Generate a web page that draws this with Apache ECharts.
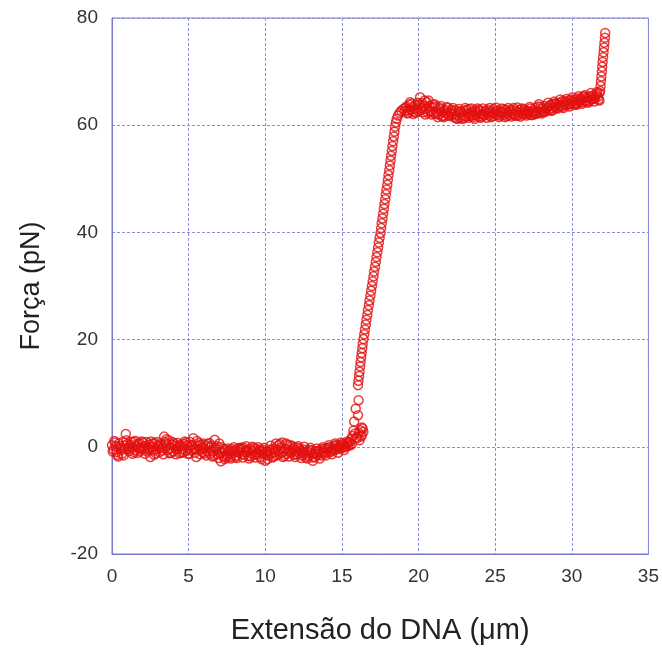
<!DOCTYPE html>
<html>
<head>
<meta charset="utf-8">
<script src="https://cdn.jsdelivr.net/npm/echarts@6/dist/echarts.min.js"></script>
<style>
html,body{margin:0;padding:0;background:#fff;}
#chart{width:662px;height:650px;}
</style>
</head>
<body>
<div id="chart"></div>
<script>
// Axis settings
var xTicks = [0, 5, 10, 15, 20, 25, 30, 35];
var yTicks = [-20, 0, 20, 40, 60, 80];
var xTitle = 'Extensão do DNA (\u03bcm)';
var yTitle = 'Força (pN)';

// Baseline (low force, before the jump)
var baseline = [
[0.0,0.3],[0.1,-0.5],[0.2,0.8],[0.3,-1.0],[0.4,-1.8],[0.5,0.2],[0.6,-0.6],[0.7,0.9],[0.8,-0.3],[0.9,2.4],
[1.0,0.5],[1.1,-0.8],[1.2,0.4],[1.3,-0.2],[1.4,1.0],[1.5,-0.6],[1.6,0.1],[1.7,-1.1],[1.8,0.6],[1.9,-0.3],
[2.0,0.8],[2.1,-0.5],[2.2,0.2],[2.3,-0.9],[2.4,0.4],[2.5,-1.9],[2.6,0.0],[2.7,-0.7],[2.8,0.7],[2.9,-0.4],
[3.0,0.3],[3.1,-1.0],[3.2,0.5],[3.3,-0.2],[3.4,1.9],[3.5,0.6],[3.6,-0.6],[3.7,1.2],[3.8,-0.3],[3.9,0.4],
[4.0,-0.9],[4.1,0.2],[4.2,-0.5],[4.3,0.7],[4.4,-1.2],[4.5,0.1],[4.6,-0.4],[4.7,0.5],[4.8,-0.8],[4.9,0.3],
[5.0,-0.2],[5.1,0.9],[5.2,-0.7],[5.3,1.6],[5.4,-1.1],[5.5,-1.9],[5.6,0.2],[5.7,-0.6],[5.8,0.4],[5.9,-1.0],
[6.0,-0.3],[6.1,0.3],[6.2,-0.8],[6.3,-0.1],[6.4,-1.3],[6.5,0.2],[6.6,-0.9],[6.7,1.3],[6.8,-0.5],[6.9,-1.4],
[7.0,0.6],[7.1,-2.7],[7.2,-1.0],[7.3,-1.8],[7.4,-0.6],[7.5,-1.5],[7.6,-0.8],[7.7,-1.9],[7.8,-0.4],[7.9,-1.2],
[8.0,-0.7],[8.1,-1.6],[8.2,-0.3],[8.3,-1.1],[8.4,-0.5],[8.5,-1.4],[8.6,-0.2],[8.7,-1.0],[8.8,-0.6],[8.9,-1.7],
[9.0,-0.4],[9.1,-1.2],[9.2,-0.7],[9.3,-1.5],[9.4,-0.3],[9.5,-1.1],[9.6,-0.8],[9.7,-1.9],[9.8,-0.5],[9.9,-1.3],
[10.0,-2.6],[10.1,-0.9],[10.2,-1.6],[10.3,-0.6],[10.4,-1.2],[10.5,-0.3],[10.6,-1.0],[10.7,0.6],[10.8,-0.7],[10.9,-1.4],
[11.0,-0.2],[11.1,0.8],[11.2,-0.9],[11.3,-0.4],[11.4,-1.3],[11.5,-0.6],[11.6,0.3],[11.7,-1.1],[11.8,-0.5],[11.9,-1.5],
[12.0,-0.7],[12.1,-0.2],[12.2,-1.2],[12.3,-0.8],[12.4,-1.6],[12.5,-0.5],[12.6,-1.3],[12.7,-0.9],[12.8,-1.7],[12.9,-1.0],
[13.0,-0.6],[13.1,-2.6],[13.2,-1.2],[13.3,-0.8],[13.4,-1.5],[13.5,-0.7],[13.6,-1.1],[13.7,-0.4],[13.8,-0.9],[13.9,-0.3],
[14.0,-1.0],[14.1,-0.5],[14.2,-0.1],[14.3,-0.8],[14.4,-0.3],[14.5,0.2],[14.6,-0.5],[14.7,0.0],[14.8,-0.4],[14.9,0.3],
[15.0,-0.2],[15.1,0.4],[15.2,-0.1],[15.3,0.6],[15.4,0.2]
];
var baselineB = [
[0.05,-0.9],[0.25,0.1],[0.45,0.6],[0.65,-1.3],[0.85,0.2],[1.05,-0.4],[1.25,0.9],[1.45,-1.0],[1.65,0.5],[1.85,-0.8],
[2.05,-0.1],[2.25,0.9],[2.45,-0.6],[2.65,0.6],[2.85,-1.2],[3.05,0.0],[3.25,-0.7],[3.45,0.9],[3.65,0.2],[3.85,-1.1],
[4.05,0.6],[4.25,-0.2],[4.45,0.4],[4.65,-1.0],[4.85,0.8],[5.05,-1.3],[5.25,0.3],[5.45,-0.4],[5.65,0.7],[5.85,-0.2],
[6.05,-1.2],[6.25,0.5],[6.45,-0.6],[6.65,-1.6],[6.85,0.1],[7.05,-1.1],[7.25,-0.4],[7.45,-2.0],[7.65,-1.2],[7.85,-0.8],
[8.05,-1.9],[8.25,-0.9],[8.45,-0.2],[8.65,-1.5],[8.85,-0.9],[9.05,-1.8],[9.25,-0.2],[9.45,-1.4],[9.65,-0.6],[9.85,-0.9],
[10.05,-1.5],[10.25,-0.9],[10.45,-2.0],[10.65,-0.4],[10.85,0.3],[11.05,-1.1],[11.25,-1.7],[11.45,0.4],[11.65,-0.9],[11.85,-0.2],
[12.05,-1.4],[12.25,-0.4],[12.45,-1.0],[12.65,-2.0],[12.85,-0.6],[13.05,-1.4],[13.25,-1.9],[13.45,-0.9],[13.65,-1.6],[13.85,-1.3],
[14.05,-0.2],[14.25,-1.0],[14.45,-0.6],[14.65,0.4],[14.85,-0.1],[15.05,0.6],[15.25,0.1],[15.45,0.8]
];
var baselineC = [
[0.15,1.1],[0.35,-1.5],[0.55,-0.2],[0.75,-1.6],[0.95,1.2],[1.15,0.0],[1.35,-1.3],[1.55,1.1],[1.75,-0.3],[1.95,1.0],
[2.15,-1.3],[2.35,-0.2],[2.55,1.0],[2.75,-1.5],[2.95,0.9],[3.15,-0.3],[3.35,-1.4],[3.55,1.4],[3.75,-1.2],[3.95,0.9],
[4.15,-1.4],[4.35,0.0],[4.55,-1.1],[4.75,1.0],[4.95,-1.3],[5.15,0.4],[5.35,-0.4],[5.55,1.1],[5.75,-1.4],[5.95,0.6],
[6.15,-1.6],[6.35,0.7],[6.55,-1.8],[6.75,-0.2],[6.95,-2.1],[7.15,-0.1],[7.35,-2.3],[7.55,-0.3],[7.75,-2.2],[7.95,-0.1],
[8.15,-2.1],[8.35,-0.2],[8.55,-2.0],[8.75,0.1],[8.95,-2.2],[9.15,0.0],[9.35,-2.0],[9.55,-0.1],[9.75,-2.3],[9.95,-0.2],
[10.15,-2.3],[10.35,0.2],[10.55,-1.8],[10.75,-1.6],[10.95,0.5],[11.15,-1.9],[11.35,0.6],[11.55,-1.8],[11.75,0.2],[11.95,-1.9],
[12.15,0.1],[12.35,-2.1],[12.55,0.0],[12.75,-2.2],[12.95,-0.2],[13.15,-2.0],[13.35,-0.3],[13.55,-2.2],[13.75,-0.1],[13.95,-1.6],
[14.15,0.3],[14.35,-1.4],[14.55,0.6],[14.75,-1.1],[14.95,0.8],[15.15,-0.6],[15.35,1.0]
];

// The jump from the baseline to the stretch line
var jump = [
[15.5,0.9],[15.55,0.3],[15.6,1.4],[15.65,0.5],[15.7,2.0],[15.75,3.0],[15.8,4.7],[15.85,2.5],[15.9,7.1],[15.95,1.8],
[16.0,1.6],[16.05,5.9],[16.09,8.7],[16.1,2.6],[16.15,1.2],[16.2,3.1],[16.25,1.9],[16.3,3.6],[16.35,3.4],[16.4,2.8],[16.3,2.2]
];

// The steep rise (stretching)
var rise = [
[16.05,11.5],[16.08,12.3],[16.12,13.2],[16.15,14.0],[16.19,15.0],[16.22,15.8],[16.26,16.7],[16.29,17.5],[16.33,18.4],[16.36,19.2],
[16.41,20.1],[16.46,21.0],[16.50,21.9],[16.56,22.8],[16.60,23.7],[16.66,24.6],[16.70,25.5],[16.76,26.4],[16.80,27.3],[16.86,28.2],
[16.91,29.1],[16.96,30.0],[17.01,30.9],[17.06,31.8],[17.10,32.7],[17.16,33.6],[17.21,34.5],[17.26,35.4],[17.31,36.3],[17.36,37.2],
[17.41,38.1],[17.46,39.0],[17.52,39.9],[17.56,40.8],[17.60,41.7],[17.65,42.6],[17.69,43.5],[17.74,44.4],[17.78,45.3],[17.83,46.2],
[17.87,47.1],[17.91,48.0],[17.96,48.9],[18.00,49.8],[18.04,50.7],[18.09,51.6],[18.13,52.5],[18.17,53.4],[18.21,54.3],[18.26,55.2],
[18.30,56.1],[18.34,57.0],[18.39,57.9],[18.43,58.8],[18.47,59.7],[18.52,60.5],[18.58,61.2],[18.66,61.8],[18.76,62.3],[18.88,62.7],[19.0,63.0]
];

// Overstretching plateau
var plateau = [
[19.1,62.6],[19.2,63.5],[19.3,62.8],[19.4,63.8],[19.5,62.9],[19.6,63.4],[19.7,62.5],[19.8,63.7],[19.9,63.1],[20.0,62.6],
[20.1,65.2],[20.2,63.2],[20.3,62.4],[20.4,64.6],[20.5,63.0],[20.6,62.3],[20.7,63.6],[20.8,62.7],[20.9,63.3],[21.0,62.2],
[21.1,63.4],[21.2,62.5],[21.3,62.0],[21.4,63.0],[21.5,62.4],[21.6,61.8],[21.7,62.9],[21.8,62.2],[21.9,63.2],[22.0,61.7],
[22.1,62.6],[22.2,62.0],[22.3,61.5],[22.4,62.8],[22.5,61.9],[22.6,62.4],[22.7,61.4],[22.8,62.3],[22.9,61.8],[23.0,62.7],
[23.1,61.6],[23.2,62.2],[23.3,63.0],[23.4,61.7],[23.5,62.5],[23.6,61.9],[23.7,62.8],[23.8,62.0],[23.9,61.6],[24.0,62.6],
[24.1,62.1],[24.2,63.1],[24.3,61.9],[24.4,62.4],[24.5,62.9],[24.6,61.8],[24.7,62.6],[24.8,62.2],[24.9,63.0],[25.0,62.0],
[25.1,62.7],[25.2,62.3],[25.3,61.8],[25.4,63.1],[25.5,62.4],[25.6,62.0],[25.7,62.9],[25.8,62.3],[25.9,61.9],[26.0,62.8],
[26.1,62.2],[26.2,63.2],[26.3,62.0],[26.4,62.6],[26.5,61.8],[26.6,62.9],[26.7,62.4],[26.8,62.0],[26.9,63.0],[27.0,62.3],
[27.1,62.7],[27.2,62.1],[27.3,63.1],[27.4,62.5],[27.5,62.2],[27.6,63.2],[27.7,62.6],[27.8,63.5],[27.9,62.4],[28.0,63.0],
[28.1,62.6],[28.2,63.6],[28.3,62.9],[28.4,63.3],[28.5,62.8],[28.6,63.8],[28.7,63.2],[28.8,64.0],[28.9,63.4],[29.0,63.9],
[29.1,63.3],[29.2,64.2],[29.3,63.6],[29.4,64.5],[29.5,63.8],[29.6,64.3],[29.7,63.7],[29.8,64.6],[29.9,64.0],[30.0,64.4],
[30.1,63.9],[30.2,64.8],[30.3,64.2],[30.4,65.0],[30.5,64.4],[30.6,64.9],[30.7,64.3],[30.8,65.2],[30.9,64.6],[31.0,65.1],
[31.1,64.5],[31.2,65.4],[31.3,64.8],[31.4,65.6],[31.5,65.0],[31.6,65.8],[31.7,65.3],[31.8,66.0]
];
var plateauB = [
[19.15,63.2],[19.35,62.3],[19.55,64.0],[19.75,63.0],[19.95,64.2],[20.15,62.8],[20.35,63.6],[20.55,64.3],[20.75,62.6],[20.95,63.8],
[21.15,62.1],[21.35,63.3],[21.55,61.6],[21.75,62.6],[21.95,61.9],[22.15,62.9],[22.35,62.2],[22.55,61.2],[22.75,62.6],[22.95,61.3],
[23.15,62.9],[23.35,62.1],[23.55,61.5],[23.75,62.4],[23.95,62.9],[24.15,61.6],[24.35,62.7],[24.55,62.2],[24.75,61.5],[24.95,62.5],
[25.15,61.9],[25.35,62.6],[25.55,63.0],[25.75,61.7],[25.95,62.5],[26.15,62.9],[26.35,61.7],[26.55,62.3],[26.75,63.1],[26.95,62.1],
[27.15,62.5],[27.35,61.9],[27.55,62.8],[27.75,62.2],[27.95,63.4],[28.15,62.4],[28.35,63.1],[28.55,63.6],[28.75,62.8],[28.95,64.1],
[29.15,63.7],[29.35,63.4],[29.55,64.4],[29.75,64.0],[29.95,64.8],[30.15,64.5],[30.35,63.9],[30.55,64.7],[30.75,65.4],[30.95,64.4],
[31.15,65.2],[31.35,64.9],[31.55,65.4],[31.75,64.8]
];
var plateauC = [
[19.25,62.2],[19.45,64.3],[19.65,62.1],[19.85,62.3],[20.05,63.9],[20.25,64.1],[20.45,62.0],[20.65,64.6],[20.85,62.0],[21.05,63.9],
[21.25,61.5],[21.45,63.6],[21.65,61.5],[21.85,63.4],[22.05,62.3],[22.25,63.2],[22.45,61.3],[22.65,63.0],[22.85,61.2],[23.05,63.2],
[23.25,61.4],[23.45,63.1],[23.65,61.2],[23.85,63.1],[24.05,61.4],[24.25,62.0],[24.45,61.4],[24.65,63.2],[24.85,61.7],[25.05,63.3],
[25.25,61.5],[25.45,62.2],[25.65,61.5],[25.85,63.2],[26.05,61.6],[26.25,61.9],[26.45,63.3],[26.65,61.6],[26.85,62.7],[27.05,61.8],
[27.25,63.4],[27.45,61.9],[27.65,62.1],[27.85,63.9],[28.05,62.2],[28.25,62.5],[28.45,64.2],[28.65,62.7],[28.85,64.4],[29.05,63.1],
[29.25,64.8],[29.45,63.2],[29.65,64.9],[29.85,63.5],[30.05,65.2],[30.25,63.8],[30.45,65.4],[30.65,64.0],[30.85,65.6],[31.05,64.2],
[31.25,66.0],[31.45,64.4],[31.65,66.2]
];

// Final steep rise at the end
var finalRise = [
[31.80,64.6],[31.85,66.4],[31.88,67.3],[31.90,68.2],[31.93,69.1],[31.96,70.0],[31.98,70.9],[32.01,71.8],[32.04,72.7],
[32.07,73.6],[32.10,74.5],[32.13,75.4],[32.16,76.3],[32.18,77.2]
];

var points = [].concat(baseline, baselineB, baselineC, jump, rise, plateau, plateauB, plateauC, finalRise);

var chart = echarts.init(document.getElementById('chart'), null, {renderer: 'canvas'});
var gridColor = '#8c8ce0';
var font = 'Liberation Sans, Arial, sans-serif';
chart.setOption({
  backgroundColor: '#ffffff',
  animation: false,
  grid: {left: 112, top: 18, right: 12, bottom: 94, show: true, borderColor: '#7777d0', borderWidth: 1, backgroundColor: 'transparent'},
  xAxis: {
    type: 'value', min: xTicks[0], max: xTicks[xTicks.length - 1], interval: 5,
    name: xTitle, nameLocation: 'middle', nameGap: 62,
    nameTextStyle: {fontFamily: font, fontSize: 29, color: '#222'},
    axisLine: {show: true, onZero: false, lineStyle: {color: '#7777d0', width: 1}},
    axisTick: {show: false},
    axisLabel: {margin: 13, fontFamily: font, fontSize: 19, color: '#333'},
    splitLine: {show: true, lineStyle: {color: gridColor, width: 1, type: [3, 2]}}
  },
  yAxis: {
    type: 'value', min: yTicks[0], max: yTicks[yTicks.length - 1], interval: 20,
    name: yTitle, nameLocation: 'middle', nameGap: 67, nameRotate: 90,
    nameTextStyle: {fontFamily: font, fontSize: 27, color: '#222'},
    axisLine: {show: true, onZero: false, lineStyle: {color: '#7777d0', width: 1}},
    axisTick: {show: false},
    axisLabel: {margin: 14, fontFamily: font, fontSize: 19, color: '#333'},
    splitLine: {show: true, lineStyle: {color: gridColor, width: 1, type: [3, 2]}}
  },
  series: [{
    type: 'scatter',
    data: points,
    symbol: 'circle',
    symbolSize: 9,
    itemStyle: {color: 'rgba(0,0,0,0)', borderColor: '#e41010', borderWidth: 1.5}
  }]
});
</script>
</body>
</html>
